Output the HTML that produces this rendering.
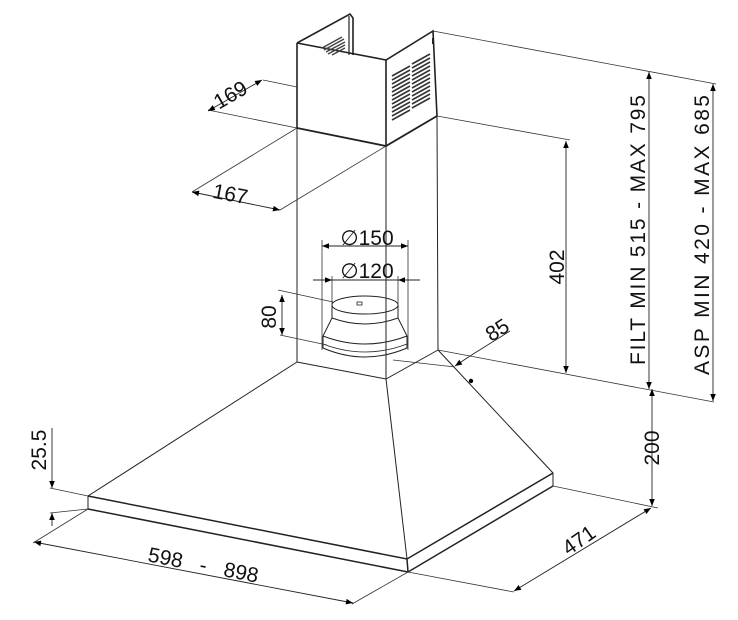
<!DOCTYPE html>
<html><head><meta charset="utf-8"><style>
html,body{margin:0;padding:0;background:#fff;}
svg{display:block;}
text{font-family:"Liberation Sans",sans-serif;fill:#111;}
</style></head><body>
<svg width="738" height="620" viewBox="0 0 738 620" xmlns="http://www.w3.org/2000/svg">
<defs>
<marker id="a" viewBox="0 0 10 10" refX="10" refY="5" markerWidth="10" markerHeight="7" orient="auto-start-reverse" markerUnits="userSpaceOnUse"><path d="M0,1 L10,5 L0,9 z" fill="#000"/></marker>
</defs>
<g stroke="#222" stroke-width="1" fill="none">
<path d="M297,43 L297,128 M386,60 L386,146 M297,43 L386,60 L433,31 L437,116" stroke-width="1.6"/>
<path d="M297,43 L350,14 L353,18 L353,55" stroke-width="1.6"/>
<path d="M349,16 L349,55" stroke-width="1.2"/>
<path d="M297,128 L386,146 L437,116" stroke-width="1.8"/>
<g stroke="#444" stroke-width="1.4">
<path d="M322,48 L342,37 M324,50 L344,39 M326,52 L345,42 M328,54 L345,45 M332,55 L345,48"/>
</g>
<g stroke="#333" stroke-width="1.6">
<path d="M392,76 L410,66 M392,80 L410,70 M392,84 L410,74 M392,88 L410,78 M392,92 L410,82 M392,96 L410,86 M392,100 L410,90 M392,104 L410,94 M392,108 L410,98 M392,112 L410,102 M392,116 L410,106 M392,120 L410,110"/>
<path d="M412,64 L430,54 M412,68 L430,58 M412,72 L430,62 M412,76 L430,66 M412,80 L430,70 M412,84 L430,74 M412,88 L430,78 M412,92 L430,82 M412,96 L430,86 M412,100 L430,90 M412,104 L430,94 M412,108 L430,98"/>
</g>
<path d="M433,38 L433,44" stroke-width="2"/>
<path d="M297,128 L297,362 M386,146 L386,379 M437,116 L438,350"/>
<path d="M297,362 L386,379 L438,350"/>
<path d="M297,362 L88,496 L88,509 M386,379 L407,559 M438,350 L553,473 L553,486"/>
<path d="M88,496 L407,559 L553,473 M88,509 L408,572 L553,486 M407,559 L408,572" stroke-width="1.5"/>
<ellipse cx="365" cy="305" rx="33" ry="9"/>
<path d="M332,305 L332,318 L323,336 M398,305 L398,318 L407,336"/>
<path d="M332,318 Q365,330 398,318"/>
<path d="M323,336 Q365,352 407,336"/>
<path d="M323,336 L323,348 Q365,366 407,348 L407,336"/>
<path d="M323,344 Q365,360 407,344" stroke-width="0.8"/>
<rect x="357" y="302" width="5" height="3" stroke-width="0.8"/>
<g stroke="#333" stroke-width="0.8">
<path d="M297,87 L263,80 M297,128 L208,110"/>
<path d="M297,128 L192,192 M386,146 L280,210"/>
<path d="M433,31 L716,84 M437,116 L570,140 M438,350 L714,402"/>
<path d="M322,240 L322,350 M408,240 L408,350 M332,276 L332,305 M398,276 L398,305"/>
<path d="M333,302 L278,290 M327,345 L280,335"/>
<path d="M393,360 L455,367"/>
<path d="M88,496 L50,488 M88,509 L50,513"/>
<path d="M88,509 L33,543 M408,572 L352,604"/>
<path d="M408,572 L514,592 M553,486 L658,508"/>
</g>
<g stroke="#222" stroke-width="0.9">
<path d="M208,111 L262,80" marker-start="url(#a)" marker-end="url(#a)"/>
<path d="M192,192 L280,210" marker-start="url(#a)" marker-end="url(#a)"/>
<path d="M322,246 L408,246" marker-start="url(#a)" marker-end="url(#a)"/>
<path d="M313,280 L332,280" marker-end="url(#a)"/>
<path d="M420,280 L398,280" marker-end="url(#a)"/>
<path d="M332,280 L398,280"/>
<path d="M282,295 L282,335" marker-start="url(#a)" marker-end="url(#a)"/>
<path d="M510,331 L470,356"/>
<path d="M470,356 L455,366" marker-end="url(#a)"/>
<path d="M566,141 L566,373" marker-start="url(#a)" marker-end="url(#a)"/>
<path d="M649,72 L649,389" marker-start="url(#a)" marker-end="url(#a)"/>
<path d="M713,84 L713,401" marker-start="url(#a)" marker-end="url(#a)"/>
<path d="M652,389 L652,506" marker-start="url(#a)" marker-end="url(#a)"/>
<path d="M651,508 L514,591" marker-start="url(#a)" marker-end="url(#a)"/>
<path d="M34,542 L353,603" marker-start="url(#a)" marker-end="url(#a)"/>
<path d="M52,428 L52,488" marker-end="url(#a)"/>
<path d="M52,526 L52,513" marker-end="url(#a)"/>
</g>
<circle cx="471" cy="381" r="2.2" fill="#000" stroke="none"/>
</g>
<g font-size="21">
<text transform="translate(234,101) rotate(-30)" text-anchor="middle">169</text>
<text transform="translate(229,201) rotate(11)" text-anchor="middle">167</text>
<text x="367" y="245" text-anchor="middle">∅150</text>
<text x="367" y="278" text-anchor="middle">∅120</text>
<text transform="translate(276,317) rotate(-90)" text-anchor="middle">80</text>
<text transform="translate(501,336) rotate(-32)" text-anchor="middle">85</text>
<text transform="translate(564,267) rotate(-90)" text-anchor="middle">402</text>
<text transform="translate(645,230) rotate(-90)" text-anchor="middle" textLength="270" lengthAdjust="spacing">FILT MIN 515 - MAX 795</text>
<text transform="translate(709,235) rotate(-90)" text-anchor="middle" textLength="280" lengthAdjust="spacing">ASP MIN 420 - MAX 685</text>
<text transform="translate(659,448) rotate(-90)" text-anchor="middle">200</text>
<text transform="translate(583,546) rotate(-35)" text-anchor="middle">471</text>
<text transform="translate(202,572) rotate(11)" text-anchor="middle" xml:space="preserve">598   -   898</text>
<text transform="translate(46,450) rotate(-90)" text-anchor="middle">25.5</text>
</g>
</svg>
</body></html>
